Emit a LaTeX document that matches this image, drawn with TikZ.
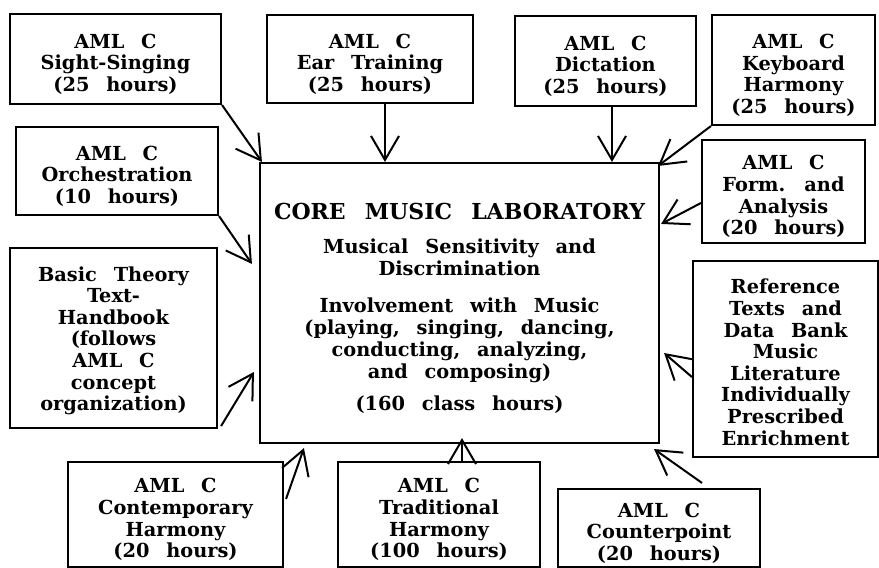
\documentclass[tikz,border=0pt]{standalone}
\usepackage{fontspec}
\setmainfont{DejaVu Serif}[WordSpace=2.5]
\usetikzlibrary{arrows.meta,calc}
\newcommand\bxfont{\bfseries\fontsize{14.5}{16.2}\selectfont}
\newcommand\corefont{\bfseries\fontsize{14.5}{16.5}\selectfont}
\newcommand\titlefont{\fontsize{16.5}{18}\selectfont}
\newcommand\st{\rule{0pt}{18.5pt}}
\begin{document}
\begin{tikzpicture}[x=0.75pt,y=-0.75pt,
  box/.style={font=\bxfont,draw,line width=1.6pt,align=center,inner sep=0pt},
  corebox/.style={draw,line width=1.6pt,inner sep=0pt},
  coretxt/.style={font=\corefont,align=center,inner sep=0pt},
  arr/.style={line width=1.5pt,-{Straight Barb[length=18pt,width=21pt,line width=1.5pt]}}]
\useasboundingbox (0,0) rectangle (879,568);
% boxes
\node[box,minimum width=158.25pt,minimum height=67.5pt] (ss) at (115.5,59) {\st AML C\\Sight-Singing\\(25 hours)};
\node[box,minimum width=154.5pt,minimum height=66pt] (et) at (370,59) {\st AML C\\Ear Training\\(25 hours)};
\node[box,minimum width=135.75pt,minimum height=67.5pt] (dic) at (605.5,61) {\st AML C\\Dictation\\(25 hours)};
\node[box,minimum width=122.25pt,minimum height=82.5pt] (kh) at (793.5,70) {\st AML C\\Keyboard\\Harmony\\(25 hours)};
\node[box,minimum width=122.25pt,minimum height=77.25pt] (fa) at (783.5,191.5) {\st AML C\\Form. and\\Analysis\\(20 hours)};
\node[box,minimum width=138.75pt,minimum height=147pt] (ref) at (785.5,359) {\rule{0pt}{16pt}Reference\\Texts and\\Data Bank\\Music\\Literature\\Individually\\Prescribed\\Enrichment};
\node[box,minimum width=151.5pt,minimum height=66pt] (orch) at (117,171) {\st AML C\\Orchestration\\(10 hours)};
\node[box,minimum width=155.25pt,minimum height=135pt] (bt) at (113.5,338) {\rule{0pt}{15pt}Basic Theory\\Text-\\Handbook\\(follows\\AML C\\concept\\organization)};
\node[box,minimum width=161.25pt,minimum height=78.75pt] (ch) at (175.5,514.5) {\st AML C\\Contemporary\\Harmony\\(20 hours)};
\node[box,minimum width=151.5pt,minimum height=78.75pt] (th) at (439,514.5) {\st AML C\\Traditional\\Harmony\\(100 hours)};
\node[box,minimum width=151.5pt,minimum height=58.5pt] (cp) at (659,528) {\st AML C\\Counterpoint\\(20 hours)};
\node[corebox,minimum width=299.25pt,minimum height=210pt] (core) at (459.5,303) {};
\node[coretxt] (coretext) at (459.5,308.5) {%
{\titlefont CORE MUSIC LABORATORY}\\[9pt]
Musical Sensitivity and\\
Discrimination\\[11pt]
Involvement with Music\\
(playing, singing, dancing,\\
conducting, analyzing,\\
and composing)\\[8pt]
(160 class hours)};
% arrow anchor coordinates
\coordinate (etx) at ($(et.south)+(15,0)$);
\coordinate (dx) at ($(dic.south)+(6.5,0)$);
\coordinate (thx) at ($(th.north)+(23,0)$);
% arrows
\draw[arr] (ss.south east) -- ($(core.north west)+(3,0)$);
\draw[arr] (etx) -- (etx |- core.north);
\draw[arr] (dx) -- (dx |- core.north);
\draw[arr] (kh.south west) -- ($(core.north east)+(-2,4)$);
\draw[arr] ($(fa.west)+(0,11.5)$) -- ($(core.north east)+(1,62)$);
\draw[arr] (orch.south east) -- ($(core.north west)+(-7,102)$);
\draw[arr] ($(bt.south east)+(3,-3)$) -- ($(core.north west)+(-5,210)$);
\draw[arr] ($(ch.north east)+(2,38)$) -- ($(core.south west)+(45,4)$);
\draw[arr] (thx) -- ($(thx |- core.south)+(0,-6)$);
\draw[arr] ($(cp.north)+(43,-5)$) -- ($(core.south east)+(-6,5)$);
\draw[arr] ($(ref.west)+(0,18)$) -- ($(core.east)+(4,50)$);
\end{tikzpicture}
\end{document}
